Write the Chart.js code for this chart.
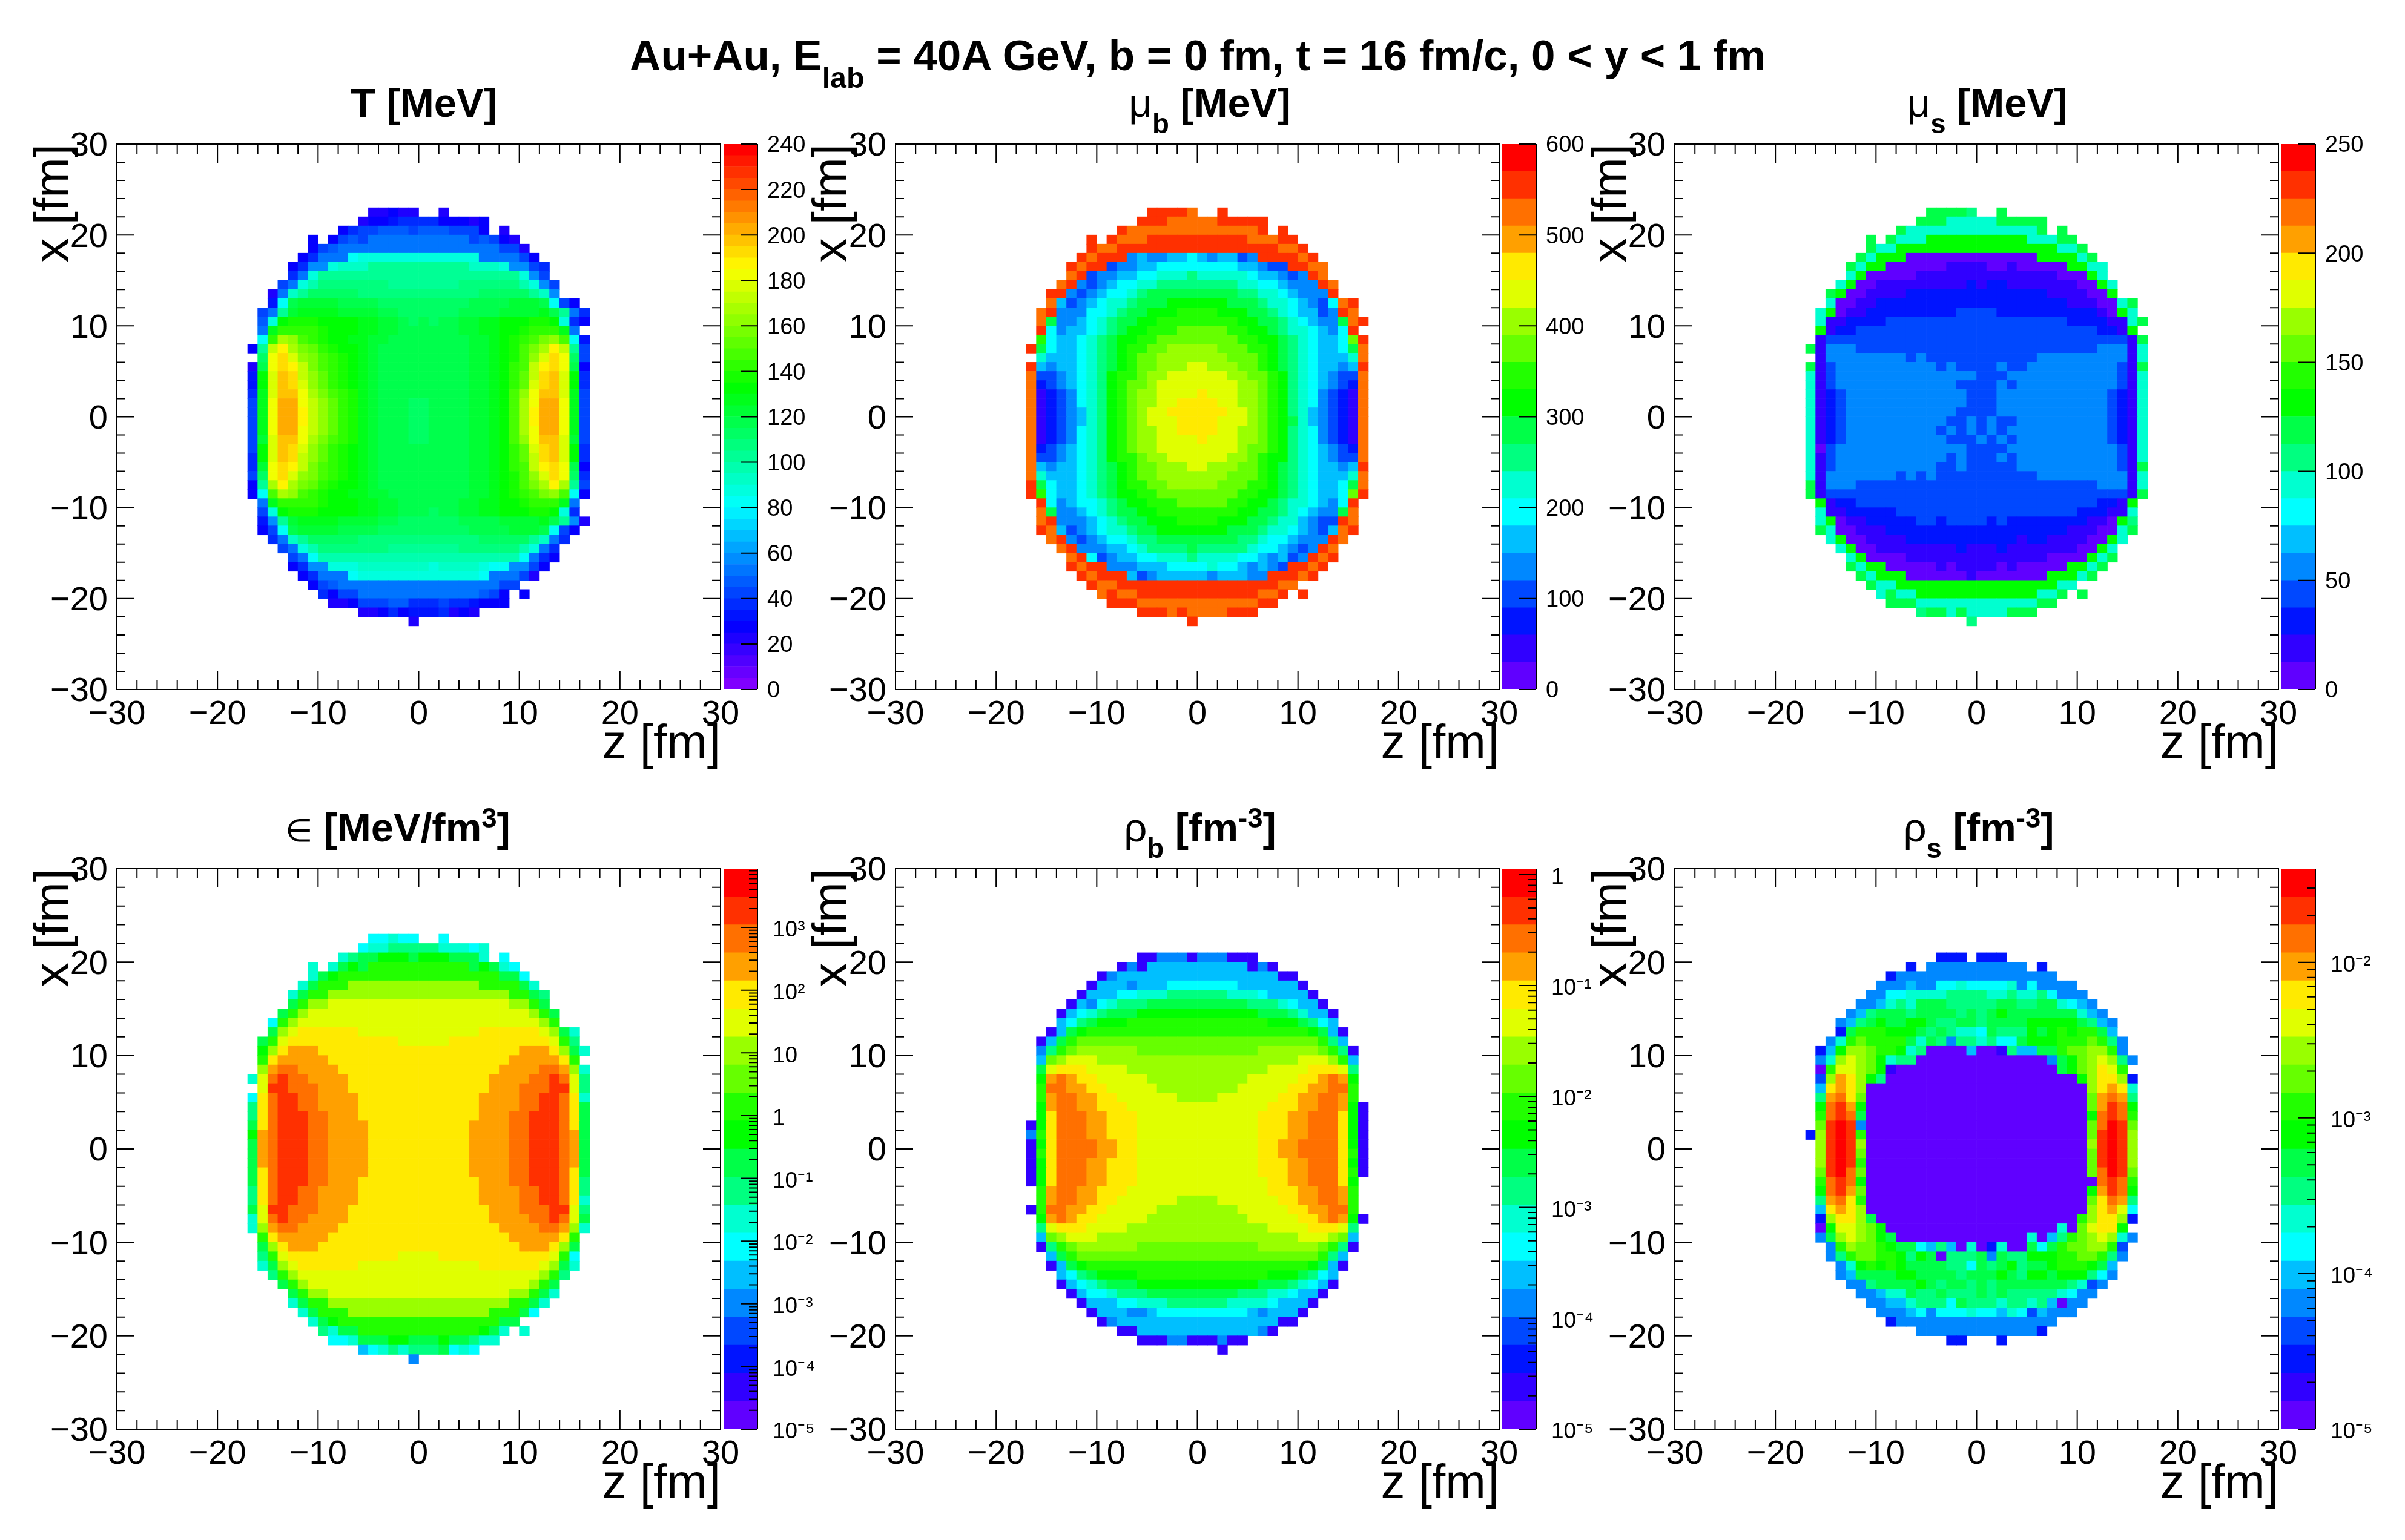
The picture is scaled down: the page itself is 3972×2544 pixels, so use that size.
<!DOCTYPE html>
<html>
<head>
<meta charset="utf-8">
<title>Au+Au fireball slices</title>
<script src="https://cdn.jsdelivr.net/npm/chart.js@4/dist/chart.umd.min.js"></script>
<style>
    html, body { margin: 0; padding: 0; background: #fff; }
    body { position: relative; width: 3972px; height: 2544px; overflow: hidden; font-family: "Liberation Sans", sans-serif; }
    canvas { position: absolute; }
    .ttl { position: absolute; transform: translateX(-50%); font-weight: bold; color: #000; white-space: nowrap; line-height: 1; }
    .ttl sub, .ttl sup { font-size: 68%; line-height: 0; }
    .ttl sub { vertical-align: -0.6em; }
    .ttl sup { vertical-align: 0.5em; }
    .sym { font-weight: normal; }
    .small { font-size: 78%; }
</style>
</head>
<body>
<script>
// each row is one 1 fm slice in x, first row is 23 > x > 22, first column is -17 < z < -16
// "." is an empty bin, "k*10" means ten bins of level k
var tempRows = [
    "............44544..4",
    "...........4556777755545",
    ".........578899989998885.4",
    "......5.5898 a*10 89854",
    "......589 a*16 884",
    ".....57aaag h*12 aaaa85",
    "....57bbhiii k*10 iiihbb87",
    "....7ah k*20 hb8",
    "...8ahj l*7 k*7 l*6 jhb8",
    "..4aik m*5 l*12 m*5 kib",
    "..6gnoooonnnn m*9 nnnnooong85",
    ".8akoppppoooonn m*6 nnnnoooopnka7",
    ".9hqrrrqqqqppoonmnmnnooppqqqrrqh75",
    ".apssssrqqqppoo n*6 ooppqqrssspa",
    ".gsxwtsrqqppoo n*8 oopqrstvwtg6",
    "5kyBxvusrqqpo n*9 oopqrtvxByk8",
    ".mACzwvtsrqpo n*9 oopqrtwzCAm8",
    "4nACByvtsrqpo n*9 oopqstyBCAn5",
    "6qzDCywusrqpo n*9 oopqsuyCDzq7",
    "6qzDCzwusrqpo n*9 oopqsuzCDzq7",
    "7pzDDAxvtsrpo n*9 oopqtwADDzp8",
    "8pAEEAywusrponnnmmnnnnoopqtxAEEAp8",
    "8pAEEBywusrponnnmmnnnnoopqtxBEEAp8",
    "8pAEEBywusrponnnmmnnnnoopqtxBEEAp8",
    "8pAEEAywusrponnnmmnnnnoopqtxAEEAp8",
    "8ozDDAxvtsrponnnmmnnnnoopqtwADDzo8",
    "8qzDCzwusrqpo n*9 oopqsuzCDzq7",
    "7qzDCywusrqpo n*9 oopqsuyCDzq7",
    "7oACByvtsrqpo n*9 oopqstyBCAn5",
    "8mACzwvtsrqpo n*9 oopqrtwzCAm7",
    "5kxBxvusrqqpo n*9 oopqrtvxBxk8",
    "5gtxwtsrqqppoo n*8 oopqrstvwtg5",
    ".apssssrqqqppoo n*6 ooppqqrssspa",
    ".8hqrrrqqqqppoonnnmnnooppqqqrrqh7",
    ".6bkoppppoooonn m*6 nnnnoooopnkb4",
    ".58gnoooonnnn m*9 nnnnooong85",
    "..7aik m*5 l*12 m*5 kia7",
    "...8ahj l*7 k*7 l*6 jha7",
    "....8ag j*20 ga75",
    "....57bbhhhiiiiiiihiiiihggbb85",
    ".....57aaag h*12 gaaa84",
    "......589 a*16 88",
    ".......7588 a*12 985.5",
    "........445888997778776555",
    "...........445756667454",
    "................4"
];

var muBRows = [
    "............ssssr..s",
    "...........sssrrrrrsssss",
    ".........s r*13 s.s",
    "......s.srrr s*10 rrrss",
    "......srr s*16 rrs",
    ".....srsssefeeffgfeffdessssrs",
    "....srssdeeff g*8 ffeddssrr",
    "....rsdeeffgghhhihhhhhgffedesr",
    "...rsedefgghh i*8 hhggfeeesr",
    "..ssedefgghi j*9 iihhgfeees",
    "..rfdefghhijjjkkkkkkjjjihhgfedgrs",
    ".rseeegghijjkkkllllkkkjjihgffdesr",
    ".rjeefghijjkk l*8 kkjjihgfeejrs",
    ".sgeffghijkklll mmmmm llkkjihhgfegs",
    ".lgffghijkkll m*8 llkkjihgffgms",
    "sjgffghijkllmm nnnnn mmmllkjihgffgjr",
    ".hfffghijklmm n*7 mmmlkjihgfffhr",
    "sfeffghijklmm nnn oo nnn mmlkjihgffefs",
    "rddefghikllmnn oooooo nnmmlkihgfeddr",
    "rcdefghiklmmn o*8 nnmlkihgfedcr",
    "rbcdeghiklmnn oooo p ooo nnmlkihgedcbr",
    "rbcdeghiklmnn oo pppp oo nnmlkihgedcbr",
    "rbcdefhiklmn oo p*6 oo nmlkihfedcbr",
    "rbcdefhiklmn ooo pppp ooo nmlkjhfedcbr",
    "rbcdeghiklmnn oo pppp oo nnmlkihgedcbr",
    "rbcdeghiklmnn oooo p ooo nnmlkihgedcbr",
    "rcdefghiklmnn o*8 nmmlkihgfedcr",
    "rddefghikllmnn oooooo nnmlkkihgfeddr",
    "rfeffghijklmm nnn oo nnn mmlkjihgffefs",
    "rhfffghijklmm n*7 mmmlkjihgfffhr",
    "sjgffghijkllmm nnnnn mmmllkjihgffgjr",
    "slgffghijkkll m*8 llkkjihgffgms",
    ".sgefgghijkklll mmmmm llkkjihhgfegs",
    ".rjeefghijjkk l*8 kkjjihgfeejr",
    ".rseeefghijjkkkllllkkkjjihhfeddsr",
    ".srfdefghhijj k*7 jjjihhgfedfrs",
    "..rsedefgghii j*8 iihggfeeesr",
    "...rseeeffgh iiii j iiiii hggfedesr",
    "....rsgdeffgghhhihhhhggfefdesrs",
    "....srsseeefffgggghggfefedssrs",
    ".....srsssfdefffffefffeesssrs",
    "......srr s*16 rr",
    ".......rsrr s*12 rrs.s",
    "........sss r*12 ss",
    "...........sssrsrrrrsss",
    "................s"
];

var muSRows = [
    "............jjjji..j",
    "...........jjjhhhhhjjjjj",
    ".........j h*13 j.j",
    "......j.jhhh k*10 hhhjj",
    "......jhh k*16 hhj",
    ".....jhkkk a*13 kkkkhj",
    "....jhkkaaaaaabbbbaabaaaaakkhh",
    "....hkaaaaa b*14 aaakh",
    "...hkaa b*9 cbcc b*7 aakh",
    "..jkaabbbb c*14 bbbbaak",
    "..haabb c*19 bbbaahj",
    ".hkabb c*9 dddd c*10 bakh",
    ".hbbcccc d*18 ccccbbhj",
    ".kbcc d*24 ccbk",
    ".b d*30 bj",
    "jbeee d*24 eeebh",
    ".beeeeeeeede d*11 e*9 bh",
    "jbd e*10 dedddded de*9 dbj",
    "hbd e*14 ddd e*11 dbh",
    "hbd e*12 dddded e*10 dbh",
    "hbcd e*12 ddd e*11 dcbh",
    "hbcd e*12 ddd e*11 dcbh",
    "hbcd e*11 dddd e*11 dcbh",
    "hbcd e*10 ddededd e*9 dcbh",
    "hbcd e*9 dededed e*10 dcbh",
    "hbcd e*10 dddeded e*9 dcbh",
    "had e*13 dddd e*11 dbh",
    "hbd e*11 deddded e*10 dbh",
    "hbd e*10 ddeddddd e*10 dbj",
    "hb e*7 deded d*9 e*9 bh",
    "jbeee d*24 eeebh",
    "jb d*30 bj",
    ".kbcc d*24 ccbk",
    ".hbbccccc d*18 cccbbh",
    ".hkabbcccccddcddddcd c*8 bbaki",
    ".jhaabbb c*18 bbbaahj",
    "..hkaabbbb c*11 bcc bbbbaakh",
    "...hkaa b*8 cbbbc b*7 aakh",
    "....hkaaaa b*14 aaaakhj",
    "....jhkkaaaaababbbbabaaaaakkhj",
    ".....jhkkkaaaaaab a*7 kkkhj",
    "......jhh k*16 hh",
    ".......hjhh k*12 hhj.j",
    "........jjj h*12 jj",
    "...........ijjhjhhhhjjj",
    "................i"
];

var epsRows = [
    "............gghgg..g",
    "...........ghhiiiiihhhgh",
    ".........hijjkkkjkkkjjjh.g",
    "......h.hjkj l*10 jkjhg",
    "......hjk l*16 jjg",
    ".....hjlll n*13 lllljh",
    "....hjll n*18 llji",
    "....jlnn o*18 nnlj",
    "...jln o*22 nlj",
    "..gln o*24 nl",
    "..jnopppppp o*12 pppppponjh",
    ".jlo p*11 ooooo p*10 oli",
    ".knpqqq p*20 qqqpnjh",
    ".lpqqqqq p*18 qqqqqpl",
    ".nqrrqqqq p*16 qqqqrrqnh",
    "horsrrqqqq p*14 qqqqrrsroi",
    ".ossrrrqqq p*14 qqqrrrssoi",
    "gprssrrqqqq p*12 qqqqrrssrph",
    "iprssrrqqqq p*12 qqqqrrssrpj",
    "iprsssrrqqq p*12 qqqrrsssrpj",
    "jprsssrrqqqq p*10 qqqqrrsssrpj",
    "kqrsssrrqqqq p*10 qqqqrrsssrqj",
    "jqrsssrrqqqq p*10 qqqqrrsssrqj",
    "jqrsssrrqqqq p*10 qqqqrrsssrqj",
    "jqrsssrrqqqq p*10 qqqqrrsssrqj",
    "jprsssrrqqqq p*10 qqqqrrsssrpj",
    "jprsssrrqqq p*12 qqqrrsssrpi",
    "iprssrrqqqq p*12 qqqqrrssrpi",
    "iprssrrqqqq p*12 qqqqrrssrph",
    "jossrrrqqq p*14 qqqrrrssoi",
    "horsrrqqqq p*14 qqqqrrsroj",
    "hnqrrqqqq p*16 qqqqrrqnh",
    ".lpqqqqq p*18 qqqqqpl",
    ".jnpqqq p*20 qqqpnj",
    ".ilo p*11 oooo p*11 olg",
    ".hjnopppppp o*12 pppppponjh",
    "..iln o*24 nli",
    "...jln o*22 nlj",
    "....jlnn o*18 nnljh",
    "....hjll n*18 lljh",
    ".....hjlll n*14 llljg",
    "......hjk l*16 jj",
    ".......ihjj l*12 kjh.h",
    "........gghjjjkkjjjkjjihh",
    "...........fghihiiijghg",
    "................e"
];

var rhoBRows = [
    "",
    "",
    "...........bbeeebeeebbb",
    ".........beb f*10 beb",
    ".......be f*16 bb",
    "......bfffefff g*7 f*6 b",
    ".....bfffgghhh i*6 hhhgffffb",
    "....bfeghiii j*10 iiihgffb",
    "...bfghijjj k*12 jjjihffb",
    "...fgijkkk l*14 kkkjigf",
    "..bfjk l*22 kjfb",
    ".bfjl m*24 lif",
    ".eilm n*6 m*12 n*6 mlib",
    ".fmnooo n*20 ooonlf",
    ".joppp oooo n*14 ooooppp oi",
    ".kqrqppooooo n*10 oooooppqrqk",
    ".lrrqqppooooo n*8 oooooppqqrrl",
    ".lqrrqqpp o*6 nnnn o*6 ppqqrrql",
    ".kqrrqqppp o*14 pppqqrrqkb",
    ".kprrrqqppp o*12 pppqqrrrpkb",
    "bkprrrqqppp o*12 pppqqrrrpkb",
    "elprrrqqppp o*12 pppqqrrrpkb",
    "bkprrrrqqpp o*12 ppqqrrrrpkb",
    "blprrrrqqpp o*12 ppqqrrrrplb",
    "bkprrrqqppp o*12 pppqqrrrpkb",
    "bkprrrqqppp o*12 pppqqrrrplb",
    "bkprrrqqppp o*13 ppqqrrrpk",
    ".lqrrqqppp o*14 pppqqrrql",
    ".lqrrqqpp o*6 nnnn o*6 ppqqrrql",
    "blrrqqppooooo n*8 oooooppqqrrl",
    ".kqrqppooooo n*10 oooooppqrqkb",
    ".ioppp oooo n*14 ooooppp oi",
    ".fmnooo n*20 ooonmf",
    ".bilm n*6 m*12 n*6 mlib",
    "..fjl m*24 lif",
    "..bfjk l*22 kjfb",
    "...fgijkkkk l*13 kkkjigf",
    "...bfghijjj k*12 jjjihgfb",
    "....bfgghiii j*9 iiihhgffb",
    ".....bfffgghhh i*6 hhhhgfffb",
    "......bfffeef g*9 fefffb",
    ".......be f*16 bb",
    ".........bb f*12 eb",
    "...........bbbeebbbebb",
    "...................b",
    ""
];

var rhoSRows = [
    "",
    "",
    ".............ccc.ccc",
    "..........c. e*10 .c",
    "........c e*16",
    ".......eeefeegghgggghegeeee",
    "......eegghhhhiiiihhihhigeee",
    ".....eefhihjjjiiiiijjiijjhgfe",
    "....efijjjijjjjijijk j*7 hfe",
    "...efijkjjkkjiijjijjjjkkkkkjife",
    "...cjlllkkkjijihhgjiiikjklklljf",
    "..ehlmlllljhjieiihiggjkkklllmlie",
    ".cfknnmllkhiaaaafaabiffjjlmmnnle",
    ".ehnonmkhii a*13 ejkmnonie",
    ".aloonmkb a*16 jkmnpol",
    ".dnqpnki a*19 knppnc",
    ".fpqpn a*22 npqph",
    ".iqrpm a*22 mqrqi",
    ".krsqk a*22 mqsrk",
    ".lrsrj a*22 krsrl",
    ".mstse a*22 mrtsm",
    "cnstsl a*22 mstsn",
    ".nstsn a*22 nstsn",
    ".nstsm a*22 mstsn",
    ".nstsl a*22 mstsn",
    ".mstrm a*22 mrtsm",
    ".lrsrk a*23 rsrl",
    ".krsqm a*22 kqsrk",
    ".iqrpl a*22 mprqi",
    ".fpqpn a*22 npqog",
    ".cnppnj a*20 lnppnc",
    ".akoonmk a*17 hamoppk",
    ".ejnonmkj a*13 hafilmnonhe",
    "..elnmmlkjjgfifahachaajgjlmmnnld",
    "..eilmmllkikjaiiijejiikkkllmmlie",
    "...ehklklkjjjjiigjijkijjklllkjf",
    "...efjjjjkkjjjjijjjkjikkjkkkige",
    "....eeijjjjkjijjiji j*7 ihde",
    ".....eefhhjiijiiijijiiiiihgee",
    "......eeffhiiigjiiihiihifaee",
    ".......eeefgeggghggfhgdfeee",
    "........c e*16",
    "........... e*12 c",
    "..............cc...c",
    "",
    ""
];

var zTicks = [-30, -20, -10, 0, 10, 20, 30];
var tempTicks = [0, 20, 40, 60, 80, 100, 120, 140, 160, 180, 200, 220, 240];
var muBTicks = [0, 100, 200, 300, 400, 500, 600];
var muSTicks = [0, 50, 100, 150, 200, 250];
var epsTicks = [1e-5, 1e-4, 1e-3, 1e-2, 1e-1, 1, 10, 100, 1000];
var rhoBTicks = [1e-5, 1e-4, 1e-3, 1e-2, 1e-1, 1];
var rhoSTicks = [1e-5, 1e-4, 1e-3, 1e-2];

var levels48 = "0123456789abcdefghijklmnopqrstuvwxyzABCDEFGHIJKL";
var levels20 = "abcdefghijklmnopqrst";
var colors20 = ["#6000ff", "#3000ff", "#0014ff", "#0048ff", "#0088ff", "#00bfff", "#00ffff", "#00ffd0", "#00ff80", "#00ff48",
                "#00ff00", "#22ff00", "#66ff00", "#99ff00", "#e0ff00", "#ffea00", "#ffa000", "#ff7000", "#ff3000", "#ff0000"];
var colors48 = levels48.split('').map(function(c, i) {
    return 'hsl(' + (270 * (1 - i / 47)) + ',100%,50%)';
});

var PLOT_W = 997;
var LEFT_AXIS = 193;
var BOTTOM_AXIS = 140;
var PAD_TOP = 50;
var PAD_RIGHT = 40;
var FONT = '"Liberation Sans", sans-serif';
var colLeft = [193, 1479, 2766];
var rowTop = [238, 1435];
var rowH = [901, 926];

var panels = [
    { col: 0, row: 0, rows: tempRows, chars: levels48, colors: colors48, min: 0, max: 240, ticks: tempTicks, log: false,
      title: 'T [MeV]', titleX: 700 },
    { col: 1, row: 0, rows: muBRows, chars: levels20, colors: colors20, min: 0, max: 600, ticks: muBTicks, log: false,
      title: '<span class="sym">&mu;</span><sub>b</sub> [MeV]', titleX: 1998 },
    { col: 2, row: 0, rows: muSRows, chars: levels20, colors: colors20, min: 0, max: 250, ticks: muSTicks, log: false,
      title: '<span class="sym">&mu;</span><sub>s</sub> [MeV]', titleX: 3282 },
    { col: 0, row: 1, rows: epsRows, chars: levels20, colors: colors20, min: 1e-5, max: 8650, ticks: epsTicks, log: true,
      title: '<span class="sym small">&isin;</span> [MeV/fm<sup>3</sup>]', titleX: 657 },
    { col: 1, row: 1, rows: rhoBRows, chars: levels20, colors: colors20, min: 1e-5, max: 1.13, ticks: rhoBTicks, log: true,
      title: '<span class="sym">&rho;</span><sub>b</sub> [fm<sup>-3</sup>]', titleX: 1982 },
    { col: 2, row: 1, rows: rhoSRows, chars: levels20, colors: colors20, min: 1e-5, max: 0.04, ticks: rhoSTicks, log: true,
      title: '<span class="sym">&rho;</span><sub>s</sub> [fm<sup>-3</sup>]', titleX: 3268 }
];

function expandRow(row) {
    return row.replace(/(\S)\*(\d+)/g, function(m, ch, n) {
        return ch.repeat(parseInt(n, 10));
    }).replace(/\s+/g, '');
}

function buildCells(panel) {
    var cells = [], colors = [];
    panel.rows.forEach(function(row, k) {
        expandRow(row).split('').forEach(function(ch, c) {
            if (ch === '.') {
                return;
            }
            cells.push({ x: -16.5 + c, y: [22 - k, 23 - k] });
            colors.push(panel.colors[panel.chars.indexOf(ch)]);
        });
    });
    return { cells: cells, colors: colors };
}

// ROOT style frame: ticks point inwards on all four sides
var rootFrame = {
    id: 'rootFrame',
    afterDatasetsDraw: function(chart) {
        var a = chart.chartArea, ctx = chart.ctx, xs = chart.scales.x, ys = chart.scales.y;
        ctx.save();
        ctx.strokeStyle = '#000';
        ctx.lineWidth = 2;
        ctx.strokeRect(a.left, a.top, a.right - a.left, a.bottom - a.top);
        ctx.beginPath();
        for (var v = -30; v <= 30; v += 2) {
            var major = v % 10 === 0;
            var px = xs.getPixelForValue(v), py = ys.getPixelForValue(v);
            var lx = major ? 31 : 16, ly = major ? 29 : 14;
            ctx.moveTo(px, a.bottom); ctx.lineTo(px, a.bottom - lx);
            ctx.moveTo(px, a.top); ctx.lineTo(px, a.top + lx);
            ctx.moveTo(a.left, py); ctx.lineTo(a.left + ly, py);
            ctx.moveTo(a.right, py); ctx.lineTo(a.right - ly, py);
        }
        ctx.stroke();
        ctx.restore();
    }
};

var barTicks = {
    id: 'barTicks',
    afterDatasetsDraw: function(chart) {
        var a = chart.chartArea, ctx = chart.ctx, ys = chart.scales.y;
        ctx.save();
        ctx.strokeStyle = '#000';
        ctx.lineWidth = 2;
        ctx.beginPath();
        ctx.moveTo(a.right, a.top); ctx.lineTo(a.right, a.bottom);
        ys.ticks.forEach(function(t) {
            var py = ys.getPixelForValue(t.value);
            ctx.moveTo(a.right, py); ctx.lineTo(a.right - 28, py);
        });
        if (ys.type === 'logarithmic') {
            for (var e = -6; e < 4; e++) {
                for (var m = 2; m < 10; m++) {
                    var val = m * Math.pow(10, e);
                    if (val > ys.min && val < ys.max) {
                        var py = ys.getPixelForValue(val);
                        ctx.moveTo(a.right, py); ctx.lineTo(a.right - 14, py);
                    }
                }
            }
        }
        ctx.stroke();
        ctx.restore();
    }
};

function minusSign(v) {
    return String(v).replace('-', '\u2212');
}

function powerLabel(v) {
    var e = Math.round(Math.log10(v));
    if (e === 0) {
        return '1';
    }
    if (e === 1) {
        return '10';
    }
    var sup = { '-': '\u207b', '1': '\u00b9', '2': '\u00b2', '3': '\u00b3', '4': '\u2074', '5': '\u2075' };
    return '10' + String(e).split('').map(function(c) { return sup[c]; }).join('');
}

function addCanvas(left, top, w, h) {
    var cv = document.createElement('canvas');
    cv.width = w;
    cv.height = h;
    cv.style.left = left + 'px';
    cv.style.top = top + 'px';
    cv.style.width = w + 'px';
    cv.style.height = h + 'px';
    document.body.appendChild(cv);
    return cv.getContext('2d');
}

function addTitle(html, cx, cy, size) {
    var d = document.createElement('div');
    d.className = 'ttl';
    d.innerHTML = html;
    d.style.left = cx + 'px';
    d.style.top = (cy - size / 2) + 'px';
    d.style.fontSize = size + 'px';
    document.body.appendChild(d);
}

function drawHeat(panel) {
    var plotLeft = colLeft[panel.col], plotTop = rowTop[panel.row], plotH = rowH[panel.row];
    var w = LEFT_AXIS + PLOT_W + PAD_RIGHT, h = PAD_TOP + plotH + BOTTOM_AXIS;
    var ctx = addCanvas(plotLeft - LEFT_AXIS, plotTop - PAD_TOP, w, h);
    var built = buildCells(panel);

    new Chart(ctx, {
        type: 'bar',
        data: {
            datasets: [{
                data: built.cells,
                backgroundColor: built.colors,
                borderWidth: 0,
                barPercentage: 1,
                categoryPercentage: 1
            }]
        },
        plugins: [rootFrame],
        options: {
            responsive: false,
            animation: false,
            layout: { autoPadding: false, padding: { top: PAD_TOP, right: PAD_RIGHT, left: 0, bottom: 0 } },
            plugins: { legend: { display: false }, tooltip: { enabled: false } },
            scales: {
                x: {
                    type: 'linear', min: -30, max: 30, offset: false,
                    grid: { display: false }, border: { display: false },
                    afterBuildTicks: function(s) { s.ticks = zTicks.map(function(v) { return { value: v }; }); },
                    afterFit: function(s) { s.height = BOTTOM_AXIS; },
                    ticks: {
                        color: '#000', padding: 0, maxRotation: 0, autoSkip: false,
                        font: { family: FONT, size: 56 },
                        callback: function(v) { return minusSign(v); }
                    },
                    title: {
                        display: true, text: 'z [fm]', align: 'end', color: '#000',
                        font: { family: FONT, size: 80 }, padding: { top: 0, bottom: 0 }
                    }
                },
                y: {
                    type: 'linear', min: -30, max: 30,
                    grid: { display: false }, border: { display: false },
                    afterBuildTicks: function(s) { s.ticks = zTicks.map(function(v) { return { value: v }; }); },
                    afterFit: function(s) { s.width = LEFT_AXIS; },
                    ticks: {
                        color: '#000', padding: 7, autoSkip: false, labelOffset: 4,
                        font: { family: FONT, size: 56 },
                        callback: function(v) { return minusSign(v); }
                    },
                    title: {
                        display: true, text: 'x [fm]', align: 'end', color: '#000',
                        font: { family: FONT, size: 80 }, padding: { top: 42, bottom: 0 }
                    }
                }
            }
        }
    });
}

function drawBar(panel) {
    var plotRight = colLeft[panel.col] + PLOT_W, plotTop = rowTop[panel.row], plotH = rowH[panel.row];
    var barW = 56, labelW = 160;
    var ctx = addCanvas(plotRight + 5, plotTop - PAD_TOP, barW + labelW, PAD_TOP + plotH + PAD_TOP);
    var n = panel.colors.length;
    var datasets = panel.colors.map(function(color, i) {
        var lo, hi;
        if (panel.log) {
            lo = panel.min * Math.pow(panel.max / panel.min, i / n);
            hi = panel.min * Math.pow(panel.max / panel.min, (i + 1) / n);
        } else {
            lo = panel.min + (panel.max - panel.min) * i / n;
            hi = panel.min + (panel.max - panel.min) * (i + 1) / n;
        }
        return { data: [[lo, hi]], backgroundColor: color, borderWidth: 0, grouped: false, barPercentage: 1, categoryPercentage: 1 };
    });

    new Chart(ctx, {
        type: 'bar',
        data: { labels: [''], datasets: datasets },
        plugins: [barTicks],
        options: {
            responsive: false,
            animation: false,
            layout: { autoPadding: false, padding: { top: PAD_TOP, bottom: PAD_TOP, left: 0, right: 0 } },
            plugins: { legend: { display: false }, tooltip: { enabled: false } },
            scales: {
                x: { display: false },
                y: {
                    type: panel.log ? 'logarithmic' : 'linear',
                    position: 'right',
                    min: panel.min, max: panel.max,
                    grid: { display: false }, border: { display: false },
                    afterBuildTicks: function(s) { s.ticks = panel.ticks.map(function(v) { return { value: v }; }); },
                    afterFit: function(s) { s.width = labelW; },
                    ticks: {
                        color: '#000', padding: panel.log ? 17 : 8, autoSkip: false, labelOffset: panel.log ? 5 : 3,
                        font: { family: FONT, size: panel.log ? 37 : 38 },
                        callback: function(v) { return panel.log ? powerLabel(v) : String(v); }
                    }
                }
            }
        }
    });
}

panels.forEach(function(panel) {
    drawHeat(panel);
    drawBar(panel);
    addTitle(panel.title, panel.titleX, panel.row === 0 ? 169 : 1366, 67);
});

addTitle('Au+Au, E<sub>lab</sub> = 40A GeV, b = 0 fm, t = 16 fm/c, 0 &lt; y &lt; 1 fm', 1978, 91, 71);
</script>
</body>
</html>
